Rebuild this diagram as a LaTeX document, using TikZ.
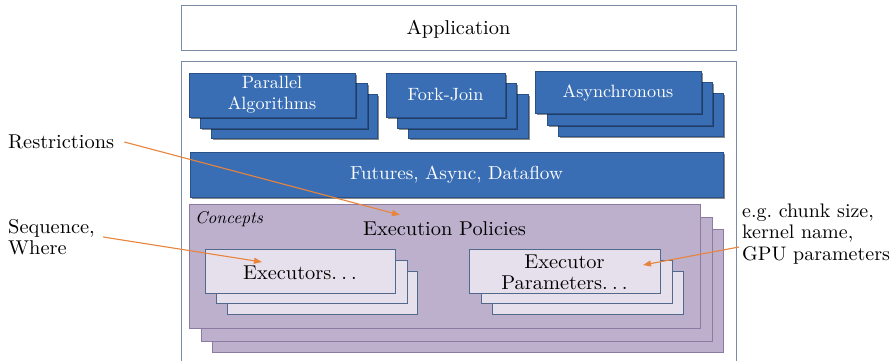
\documentclass[tikz,border=0pt]{standalone}
\usepackage{fontspec}
\setmainfont{lmroman10}[Extension=.otf,UprightFont=*-regular,ItalicFont=*-italic,BoldFont=*-bold,BoldItalicFont=*-bolditalic,FakeStretch=1.02]
\usetikzlibrary{arrows.meta,calc}
\frenchspacing
\definecolor{blueF}{HTML}{3A6EB4}
\definecolor{blueD}{HTML}{2A5088}
\definecolor{purF}{HTML}{BCB0CD}
\definecolor{purD}{HTML}{8C7AA3}
\definecolor{litF}{HTML}{E6E0EC}
\definecolor{litD}{HTML}{50698C}
\definecolor{frameC}{HTML}{7A8CA8}
\definecolor{arrC}{HTML}{E8843C}
\newcommand\fsbig{\fontsize{20}{21.5}\selectfont}
\newcommand\fsblue{\fontsize{17.8}{21}\selectfont}
\newcommand\fsfut{\fontsize{18.8}{21}\selectfont}
\newcommand\fsital{\fontsize{17}{20}\selectfont\itshape}
\newcommand\fsright{\fontsize{19.6}{21.2}\selectfont}
\newcommand\mydots{.\kern4.2pt.\kern4.2pt.}
\begin{document}
\begin{tikzpicture}[x=1pt,y=-1pt,
  bluebox/.style={draw=blueD,fill=blueF,line width=0.8pt},
  shadowbox/.style={fill=black,opacity=0.45},
  purbox/.style={draw=purD,fill=purF,line width=0.8pt},
  litbox/.style={draw=litD,fill=litF,line width=0.8pt},
  framebox/.style={draw=frameC,line width=1pt},
  arr/.style={draw=arrC,line width=1.1pt,-{Triangle[length=8pt,width=6pt]}},
  whitetext/.style={text=white,font=\fsblue,align=center,inner sep=0pt},
  blacktext/.style={text=black,font=\fsbig,align=center,inner sep=0pt},
  lbl/.style={text=black,font=\fsbig,align=left,inner sep=0pt}]
\useasboundingbox (0,0) rectangle (896,361);
\fill[white] (0,0) rectangle (896,361);

% Application
\draw[framebox] (181,6) rectangle (736,51);
\node[blacktext] (app) at (458.5,29) {Application};

% Outer frame
\draw[framebox] (181,361) -- (181,62) -- (736,62) -- (736,361);

% Parallel Algorithms stack
\fill[shadowbox] (212.5,95.5) rectangle (378.5,139.5);
\draw[bluebox] (211,94) rectangle (377,138);
\fill[shadowbox] (201.5,84.5) rectangle (368.5,129.5);
\draw[bluebox] (200,83) rectangle (367,128);
\fill[shadowbox] (190.5,74.5) rectangle (356.5,118.5);
\draw[bluebox] (189,73) rectangle (355,117);
\node[whitetext] (par) at (272,95) {Parallel\\Algorithms};

% Fork-Join stack
\fill[shadowbox] (409.5,95.5) rectangle (529.5,139.5);
\draw[bluebox] (408,94) rectangle (528,138);
\fill[shadowbox] (398.5,84.5) rectangle (517.5,129.5);
\draw[bluebox] (397,83) rectangle (516,128);
\fill[shadowbox] (387.5,74.5) rectangle (506.5,118.5);
\draw[bluebox] (386,73) rectangle (505,117);
\node[whitetext] (fork) at (445.5,95) {Fork-Join};

% Asynchronous stack
\fill[shadowbox] (559.5,94.5) rectangle (724.5,137.5);
\draw[bluebox] (558,93) rectangle (723,136);
\fill[shadowbox] (548.5,83.5) rectangle (713.5,126.5);
\draw[bluebox] (547,82) rectangle (712,125);
\fill[shadowbox] (536.5,72.5) rectangle (702.5,114.5);
\draw[bluebox] (535,71) rectangle (701,113);
\node[whitetext] (async) at (618,92.5) {Asynchronous};

% Futures bar
\fill[shadowbox] (191.5,153.5) rectangle (724.5,198.5);
\draw[bluebox] (190,152) rectangle (723,197);
\node[whitetext,font=\fsfut] (fut) at (456.5,174.5) {Futures, Async, Dataflow};

% Concepts stack
\draw[purbox] (212,229) rectangle (723,352);
\draw[purbox] (201,217) rectangle (712,341);
\draw[purbox] (189,204) rectangle (700,328);
\node[font=\fsital,anchor=west,inner sep=0pt] (concepts) at (195,219) {Concepts};
\node[blacktext] (policies) at (444.5,229) {Execution Policies};

% Executors stack
\draw[litbox] (227,271) rectangle (417,314);
\draw[litbox] (216,260) rectangle (407,303);
\draw[litbox] (205,249) rectangle (395,293);
\node[blacktext] (execs) at (300,273) {Executors\mydots};

% Executor Parameters stack
\draw[litbox] (492,271) rectangle (683,314);
\draw[litbox] (481,260) rectangle (672,303);
\draw[litbox] (469,249) rectangle (660,293);
\node[blacktext,text depth=0pt] (params) at (564.5,272) {Executor\\Parameters\mydots};

% Side labels
\node[lbl,anchor=west] (restr) at (8,142) {Restrictions};
\node[lbl,anchor=west] (seq) at (8,237) {Sequence,\\Where};
\node[lbl,anchor=west,font=\fsright] (eg) at (742,234) {e.g. chunk size,\\kernel name,\\GPU parameters};

% Arrow targets
\coordinate (tipR) at (400,215);
\coordinate (tipS) at (262,262);
\coordinate (tipE) at (643,265);

\draw[arr] ([xshift=10pt]restr.east) -- (tipR);
\draw[arr] ($(seq.east)+(8,0)$) -- (tipS);
\draw[arr] ($(eg.west)+(-3,13)$) -- (tipE);
\end{tikzpicture}
\end{document}
